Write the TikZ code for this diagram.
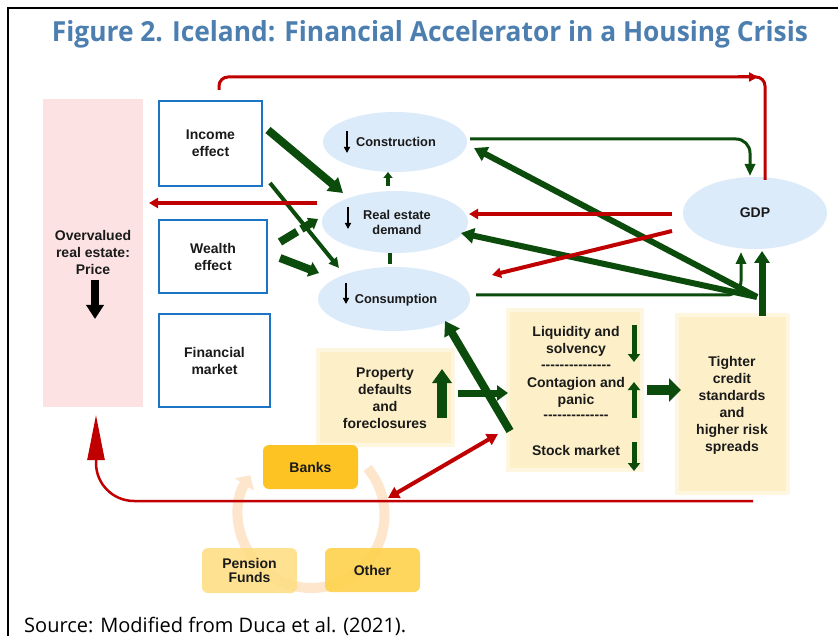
\documentclass[tikz,border=0pt]{standalone}
\usepackage{fontspec}
\usepackage{graphicx}
\setmainfont{Liberation Sans}
\newfontfamily\titlefont{Open Sans}
\newfontfamily\dashfont{Liberation Sans}[Ligatures=TeXOff]
\usetikzlibrary{arrows.meta,shapes.geometric}
\definecolor{dgreen}{HTML}{0B4B0B}
\definecolor{dred}{HTML}{C00000}
\definecolor{bblue}{HTML}{1B75C4}
\definecolor{ellblue}{HTML}{DCEBFA}
\definecolor{cream}{HTML}{FDF0C8}
\definecolor{creamrim}{HTML}{FEF6DF}
\definecolor{pinkbg}{HTML}{FDE2E3}
\definecolor{titleblue}{HTML}{4C7FB0}
\definecolor{banksc}{HTML}{FDC322}
\definecolor{otherc}{HTML}{FED24C}
\definecolor{pensionc}{HTML}{FEDD80}
\definecolor{ringc}{HTML}{FDE6CC}
\definecolor{txt}{HTML}{1A1A1A}
\tikzset{
  lbl/.style={align=center, inner sep=0, text=txt, font=\bfseries\fontsize{14}{17}\selectfont},
  elbl/.style={align=center, inner sep=0, text=txt, font=\bfseries\fontsize{12.8}{15}\selectfont},
  bluebox/.style={draw=bblue, line width=2.6pt, fill=white, inner sep=0, lbl},
  ell/.style={ellipse, fill=ellblue, inner sep=0},
  creambox/.style={rectangle, fill=cream, draw=creamrim, line width=4pt, inner sep=0},
  darr/.style={draw=black, line width=1.4pt, -{Triangle[length=6pt,width=6pt]}},
  gbig/.style={draw=dgreen, line width=8pt, -{Triangle[length=14pt,width=17pt]}},
  gmid/.style={draw=dgreen, line width=6pt, -{Triangle[length=13pt,width=15pt]}},
  gsmall/.style={draw=dgreen, line width=5pt, -{Triangle[length=8pt,width=12pt]}},
  gthin/.style={draw=dgreen, line width=3pt, -{Triangle[length=12pt,width=10pt]}},
  rline/.style={draw=dred, line width=4pt, -{Triangle[length=9pt,width=10pt]}},
  goldbox/.style={rounded corners=6pt, inner sep=0, lbl, minimum width=95pt}
}
\begin{document}
\begin{tikzpicture}[x=1pt,y=-1pt]
\useasboundingbox (0,0) rectangle (838,636);
\fill[white] (0,0) rectangle (838,636);
\draw[line width=2pt] (7.5,640) -- (7.5,8.5) -- (840,8.5);

\node[anchor=base, text=titleblue, inner sep=0] (title) at (430,42)
  {\resizebox{756pt}{21pt}{\titlefont\bfseries Figure 2. Iceland: Financial Accelerator in a Housing Crisis}};

% left column
\node[fill=pinkbg, minimum width=100pt, minimum height=308pt, inner sep=0] (price) at (93,253) {};
\node[lbl] (pricetxt) at (93,252) {Overvalued\\real estate:\\Price};
\coordinate (pa1) at (95,280); \coordinate (pa2) at (95,319);
\draw[draw=black, line width=8pt, -{Triangle[length=14pt,width=17pt]}] (pa1) -- (pa2);

\node[bluebox, minimum width=103pt, minimum height=85pt] (income) at (210.5,143.5) {Income\\effect};
\node[bluebox, minimum width=108pt, minimum height=73pt] (wealth) at (213,256.5) {Wealth\\effect};
\node[bluebox, minimum width=111pt, minimum height=93pt] (finmkt) at (214.5,360.5) {Financial\\market};

% ellipses
\node[ell, minimum width=144pt, minimum height=60pt] (constr) at (395,142) {};
\node[elbl] (constrtxt) at (396,142) {Construction};
\node[ell, minimum width=146pt, minimum height=62pt] (redem) at (395,222) {};
\node[elbl] (redemtxt) at (397,222) {Real estate\\demand};
\node[ell, minimum width=152pt, minimum height=64pt] (consum) at (394,299) {};
\node[elbl] (consumtxt) at (396,300) {Consumption};
\node[ell, minimum width=144pt, minimum height=72pt, lbl] (gdp) at (755,213) {GDP};

\coordinate (ca1) at (347,131); \coordinate (ca2) at (347,153);
\coordinate (ra1) at (348,207); \coordinate (ra2) at (348,229);
\coordinate (sa1) at (346,283); \coordinate (sa2) at (346,304);
\draw[darr] (ca1) -- (ca2);
\draw[darr] (ra1) -- (ra2);
\draw[darr] (sa1) -- (sa2);

% cream boxes
\node[creambox, minimum width=135pt, minimum height=95pt] (prop) at (385.5,397.5) {};
\node[lbl] (proptxt) at (385,398) {Property\\defaults\\and\\foreclosures};
\node[creambox, minimum width=134pt, minimum height=160pt] (mid) at (575,390) {};
\node[lbl] (liq) at (576,341) {Liquidity and\\solvency};
\node[lbl] (dash1) at (576,367) {\dashfont ---------------};
\node[lbl] (cont) at (576,392) {Contagion and\\panic};
\node[lbl] (dash2) at (576,417) {\dashfont --------------};
\node[lbl] (stock) at (576,450) {Stock market};
\node[creambox, minimum width=111pt, minimum height=178pt] (tight) at (732.5,404) {};
\node[lbl] (tighttxt) at (732,405) {Tighter\\credit\\standards\\and\\higher risk\\spreads};

% gold cycle
\coordinate (ringctr) at (311.5,515);
\draw[ringc, line width=10pt, -{Triangle[length=11pt,width=22pt]}]
  ([shift={(40:73pt)}]ringctr) arc[start angle=40, end angle=-213, radius=73pt];
\node[goldbox, fill=banksc, minimum height=44pt] (banks) at (310.5,467) {Banks};
\node[goldbox, fill=pensionc, fill opacity=0.85, text opacity=1, minimum height=45pt,
      font=\bfseries\fontsize{14}{14}\selectfont] (pension) at (249.5,570.5) {Pension\\Funds};
\node[goldbox, fill=otherc, fill opacity=0.9, text opacity=1, minimum height=44pt] (other) at (372.5,570) {Other};

% small arrows inside boxes
\coordinate (m1a) at (634,325); \coordinate (m1b) at (634,362);
\coordinate (m2a) at (634,418); \coordinate (m2b) at (634,382);
\coordinate (m3a) at (634,442); \coordinate (m3b) at (634,471);
\draw[gsmall] (m1a) -- (m1b);
\draw[gsmall] (m2a) -- (m2b);
\draw[gsmall] (m3a) -- (m3b);
\coordinate (pu1) at (442,418); \coordinate (pu2) at (442,369);
\draw[draw=dgreen, line width=10pt, -{Triangle[length=14pt,width=19pt]}] (pu1) -- (pu2);

% green connectors
\coordinate (bg1) at (647,390); \coordinate (bg2) at (681,390);
\draw[draw=dgreen, line width=10pt, -{Triangle[length=12pt,width=23pt]}] (bg1) -- (bg2);
\coordinate (pm1) at (458,393); \coordinate (pm2) at (508,393);
\draw[draw=dgreen, line width=7pt, -{Triangle[length=11pt,width=15pt]}] (pm1) -- (pm2);
\coordinate (mc1) at (510,431); \coordinate (mc2) at (445,321);
\draw[gbig] (mc1) -- (mc2);

\coordinate (ie1) at (268,130); \coordinate (ie2) at (343,193);
\draw[gbig] (ie1) -- (ie2);
\coordinate (ic1) at (270,183); \coordinate (ic2) at (339,268);
\draw[draw=dgreen, line width=4pt, -{Triangle[length=10pt,width=10pt]}] (ic1) -- (ic2);
\coordinate (wr1) at (280,242); \coordinate (wr2) at (318,219);
\draw[draw=dgreen, line width=8pt, dash pattern=on 20pt off 5pt, -{Triangle[length=9pt,width=13pt]}] (wr1) -- (wr2);
\coordinate (wc1) at (280,258); \coordinate (wc2) at (319,273);
\draw[draw=dgreen, line width=8pt, -{Triangle[length=10pt,width=15pt]}] (wc1) -- (wc2);

\coordinate (rc1) at (388,186); \coordinate (rc2) at (388,172);
\draw[draw=dgreen, line width=4pt, -{Triangle[length=6pt,width=9pt]}] (rc1) -- (rc2);
\coordinate (rs1) at (390,253); \coordinate (rs2) at (390,264);
\draw[draw=dgreen, line width=4pt] (rs1) -- (rs2);

\coordinate (hub) at (757,297);
\coordinate (hubc) at (474,148);
\coordinate (hubr) at (461,233);
\draw[gmid] (hub) -- (hubc);
\draw[gmid] (hub) -- (hubr);
\coordinate (tg1) at (762,316); \coordinate (tg2) at (762,251);
\draw[draw=dgreen, line width=7pt, -{Triangle[length=12pt,width=15pt]}] (tg1) -- (tg2);

\coordinate (cg1) at (470,139); \coordinate (cg2) at (750,176);
\draw[gthin, rounded corners=14pt] (cg1) -| (cg2);
\coordinate (sg1) at (476,295); \coordinate (sg2) at (741,252);
\draw[gthin, rounded corners=14pt] (sg1) -| (sg2);

% red connectors
\coordinate (gr1) at (672,214); \coordinate (gr2) at (469,214);
\draw[rline] (gr1) -- (gr2);
\coordinate (gs1) at (672,231); \coordinate (gs2) at (492,275);
\draw[rline] (gs1) -- (gs2);
\coordinate (rp1) at (317,203); \coordinate (rp2) at (149,203);
\draw[rline] (rp1) -- (rp2);
\coordinate (rd1) at (388,498); \coordinate (rd2) at (498,434);
\draw[draw=dred, line width=4pt, {Triangle[length=11pt,width=12pt]}-{Triangle[length=11pt,width=12pt]}] (rd1) -- (rd2);

\coordinate (top1) at (219,90); \coordinate (topL) at (219,77);
\coordinate (topR) at (765,77); \coordinate (top2) at (765,180);
\draw[draw=dred, line width=3pt, rounded corners=9pt] (top1) -- (topL) -- (topR) -- (top2);
\coordinate (ta1) at (738,77); \coordinate (ta2) at (758,77);
\draw[draw=dred, line width=3pt, -{Triangle[length=9pt,width=9pt]}] (ta1) -- (ta2);

\coordinate (bot1) at (753,501); \coordinate (bot2) at (96,415);
\draw[draw=dred, line width=2.5pt, rounded corners=38pt, -{Triangle[length=45pt,width=17pt]}] (bot1) -| (bot2);

\node[anchor=base west, inner sep=0] (src) at (24,632)
  {\resizebox{382pt}{!}{\titlefont Source: Modified from Duca et al. (2021).}};
\end{tikzpicture}
\end{document}
